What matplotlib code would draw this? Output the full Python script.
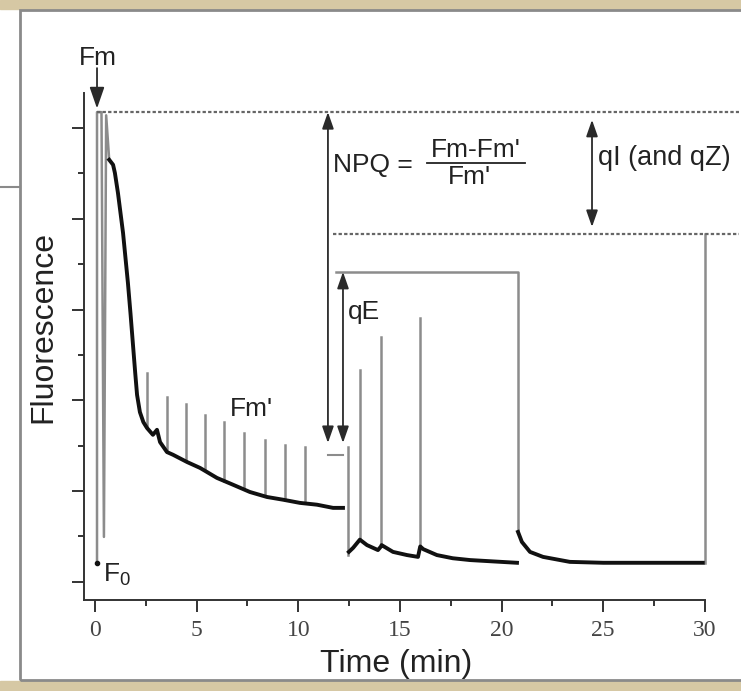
import matplotlib.pyplot as plt
from matplotlib.patches import Rectangle
from matplotlib.lines import Line2D

plt.rcParams['font.family'] = ['Liberation Sans', 'DejaVu Sans']

# black trace while actinic light is on (time in min, fluorescence a.u.)
light_t = [0.70, 0.89, 0.98, 1.13, 1.38, 1.62, 1.75, 1.87, 1.98, 2.07, 2.21, 2.38, 2.56, 2.85, 3.05,
           3.20, 3.54, 3.84, 4.53, 5.17, 6.00, 6.79, 7.62, 8.46, 9.25, 10.08, 10.92, 11.71, 12.20]
light_f = [10.30, 10.19, 10.01, 9.57, 8.69, 7.59, 6.90, 6.22, 5.60, 5.12, 4.74, 4.52, 4.39, 4.24, 4.35,
           4.08, 3.86, 3.80, 3.64, 3.51, 3.29, 3.14, 2.98, 2.87, 2.81, 2.74, 2.70, 2.63, 2.63]

# black trace in the dark, after the first relaxation
dark_t = [12.49, 12.70, 13.03, 13.38, 13.92, 14.07, 14.10, 14.66, 15.35, 15.89, 16.00,
          16.15, 16.82, 17.60, 18.45, 19.60, 20.76]
dark_f = [1.66, 1.75, 1.93, 1.81, 1.70, 1.78, 1.81, 1.66, 1.59, 1.55, 1.78,
          1.72, 1.59, 1.52, 1.48, 1.45, 1.42]

# black trace after the pulse at 20.8 min
late_t = [20.81, 21.00, 21.40, 22.04, 23.36, 25.00, 27.50, 29.90]
late_f = [2.10, 1.88, 1.66, 1.55, 1.44, 1.42, 1.42, 1.42]

# Fm' saturating pulses under light
pulse_t = [2.56, 3.54, 4.48, 5.41, 6.35, 7.33, 8.36, 9.35, 10.33]
pulse_base = [4.39, 3.86, 3.66, 3.46, 3.23, 3.05, 2.89, 2.80, 2.73]
pulse_top = [5.60, 5.07, 4.92, 4.68, 4.52, 4.28, 4.13, 4.02, 3.97]

# pulses in the dark
dpulse_t = [13.03, 14.07, 16.00]
dpulse_base = [1.93, 1.78, 1.78]
dpulse_top = [5.67, 6.40, 6.81]

# first flash: F0 -> Fm -> back down -> actinic light on
start_t = [0.10, 0.10, 0.32, 0.44, 0.55, 0.70]
start_f = [1.42, 11.35, 11.35, 1.99, 11.28, 10.30]

f0_level = 1.42
fm_level = 11.35
fm_dark_level = 8.67      # level reached at 30 min (qI)
fm_qe_level = 7.83        # level after qE relaxation
fm_prime_level = 4.06

x_major = [0, 5, 10, 15, 20, 25, 30]
x_minor = [2.5, 7.5, 12.5, 17.5, 22.5, 27.5]
y_major = [1, 3, 5, 7, 9, 11]
y_minor = [2, 4, 6, 8, 10]

W, H = 741, 691
fig = plt.figure(figsize=(W / 100, H / 100), dpi=100)

# page decoration: beige strips and grey frame
fig.patches.append(Rectangle((0, 1 - 9 / H), 1, 9 / H, transform=fig.transFigure,
                             color='#d6c8a4', zorder=0))
fig.patches.append(Rectangle((0, 0), 1, 10 / H, transform=fig.transFigure,
                             color='#d6c8a4', zorder=0))
fig.patches.append(Rectangle((20 / W, 11 / H), 1.0, 670 / H, transform=fig.transFigure,
                             fill=False, ec='#8a8a8a', lw=2, zorder=1))
fig.lines.append(Line2D([0, 20 / W], [1 - 187 / H] * 2, transform=fig.transFigure,
                        color='#8a8a8a', lw=1.5))

ax = fig.add_axes([84 / W, 91 / H, 656 / W, 580 / H])
ax.set_xlim(-0.54, 31.73)
ax.set_ylim(0.6, 13.38)
ax.patch.set_alpha(0)

grey = '#8c8c8c'
dark = '#2a2a2a'

# saturating pulses (grey)
ax.plot(start_t, start_f, color=grey, lw=1.8)
for t, b, tp in zip(pulse_t, pulse_base, pulse_top):
    ax.plot([t, t], [b, tp], color=grey, lw=1.8)
for t, b, tp in zip(dpulse_t, dpulse_base, dpulse_top):
    ax.plot([t, t], [b, tp], color=grey, lw=1.8)
ax.plot([12.45, 12.45], [3.97, 1.59], color=grey, lw=1.8)
ax.plot([11.85, 20.8, 20.8], [fm_qe_level, fm_qe_level, 2.10], color=grey, lw=1.8)
ax.plot([30, 30], [f0_level, fm_dark_level], color=grey, lw=1.8)
ax.plot([11.46, 12.2], [3.80, 3.80], color=grey, lw=1.5)

# reference levels (dotted)
ax.plot([0.1, 31.7], [fm_level, fm_level], color='#666666', lw=1.6,
        ls=(0, (1.5, 1)), clip_on=False)
ax.plot([11.7, 31.7], [fm_dark_level, fm_dark_level], color='#666666', lw=1.6,
        ls=(0, (1.5, 1)), clip_on=False)

# fluorescence trace (black)
ax.plot(light_t, light_f, color='#111111', lw=2.8)
ax.plot(dark_t, dark_f, color='#111111', lw=2.8)
ax.plot(late_t, late_f, color='#111111', lw=2.8)
ax.plot([0.1], [f0_level], 'o', color='#111111', ms=3)

arrow = dict(arrowstyle='<|-|>,head_length=1.0,head_width=0.35', color=dark,
             lw=1.3, shrinkA=0, shrinkB=0, mutation_scale=10)
one_way = dict(arrowstyle='-|>,head_length=1.3,head_width=0.45', color=dark,
               lw=1.3, shrinkA=0, shrinkB=0, mutation_scale=10)

ax.annotate('', xy=(0.1, fm_level + 0.08), xytext=(0.1, 12.32), arrowprops=one_way)
ax.annotate('', xy=(11.46, fm_level), xytext=(11.46, fm_prime_level), arrowprops=arrow)
ax.annotate('', xy=(12.2, fm_qe_level), xytext=(12.2, fm_prime_level), arrowprops=arrow)
ax.annotate('', xy=(24.45, 11.18), xytext=(24.45, 8.82), arrowprops=arrow)

fs = 19
ax.text(0.15, 12.55, 'Fm', fontsize=fs, ha='center', va='center', color='#222222')
ax.text(0.38, 1.0, r'F$_\mathregular{0}$', fontsize=fs, ha='left', va='baseline',
        color='#222222')
ax.text(6.64, 4.81, "Fm'", fontsize=fs, ha='left', va='center', color='#222222')
ax.text(12.44, 6.95, 'qE', fontsize=fs, ha='left', va='center', color='#222222')
ax.text(11.71, 10.19, 'NPQ =', fontsize=fs, ha='left', va='center', color='#222222')
ax.text(18.74, 10.52, "Fm-Fm'", fontsize=fs, ha='center', va='center', color='#222222')
ax.plot([16.33, 21.15], [10.23, 10.23], color='#222222', lw=1.3)
ax.text(18.40, 9.92, "Fm'", fontsize=fs, ha='center', va='center', color='#222222')
ax.text(24.75, 10.34, 'qI (and qZ)', fontsize=19.5, ha='left', va='center', color='#222222')

# axes styling
for side in ['top', 'right']:
    ax.spines[side].set_visible(False)
ax.spines['left'].set_bounds(0.6, 11.77)
ax.spines['bottom'].set_bounds(-0.54, 30)
for side in ['left', 'bottom']:
    ax.spines[side].set_linewidth(1.4)
    ax.spines[side].set_color('#333333')

ax.set_xticks(x_major)
ax.set_xticks(x_minor, minor=True)
ax.set_yticks(y_major)
ax.set_yticks(y_minor, minor=True)
ax.set_yticklabels([])
ax.set_xticklabels([str(v) for v in x_major], family='Liberation Serif', fontsize=17,
                   color='#444444')
ax.tick_params(which='major', length=8.5, width=1.4, color='#333333', pad=6)
ax.tick_params(which='minor', length=4.5, width=1.4, color='#333333')

fig.text(43 / W, 1 - 327 / H, 'Fluorescence', rotation=90, fontsize=23,
         ha='center', va='center', color='#222222')
fig.text(396 / W, 1 - 672 / H, 'Time (min)', fontsize=23, ha='center', va='baseline',
         color='#222222')

fig.savefig('out.png', dpi=100)
